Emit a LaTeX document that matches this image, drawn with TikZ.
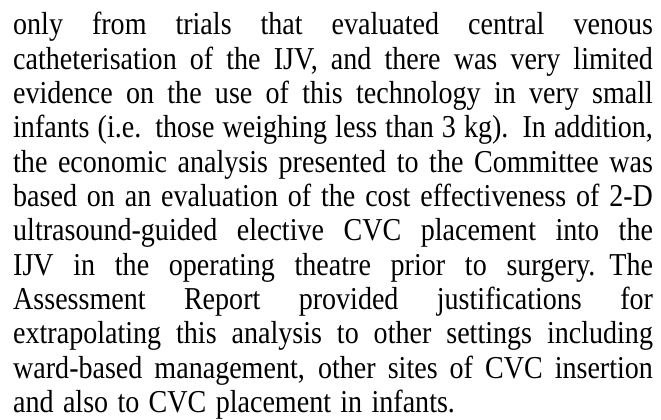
\documentclass[tikz,border=0pt]{standalone}
\usepackage{fontspec}
\setmainfont{Liberation Serif}
\newcommand\jline[1]{\leavevmode{\spaceskip=.25em plus 2em minus .08em\hbox to 727bp{#1}}}
\begin{document}
\begin{tikzpicture}[x=1bp,y=1bp]
\useasboundingbox (0,0) rectangle (661,419);
\node[anchor=north west, inner sep=0pt, text width=727bp, align=left,
  xscale=0.88, transform shape,
  font=\fontsize{32}{34.5}\selectfont] (para) at (13,407) {%
\jline{only from trials that evaluated central venous}\\
\jline{catheterisation of the IJV, and there was very limited}\\
\jline{evidence on the use of this technology in very small}\\
\jline{infants (i.e. those weighing less than 3 kg). In addition,}\\
\jline{the economic analysis presented to the Committee was}\\
\jline{based on an evaluation of the cost effectiveness of 2-D}\\
\jline{ultrasound-guided elective CVC placement into the}\\
\jline{IJV in the operating theatre prior to surgery. The}\\
\jline{Assessment Report provided justifications for}\\
\jline{extrapolating this analysis to other settings including}\\
\jline{ward-based management, other sites of CVC insertion}\\
and also to CVC placement in infants.};
\end{tikzpicture}
\end{document}
